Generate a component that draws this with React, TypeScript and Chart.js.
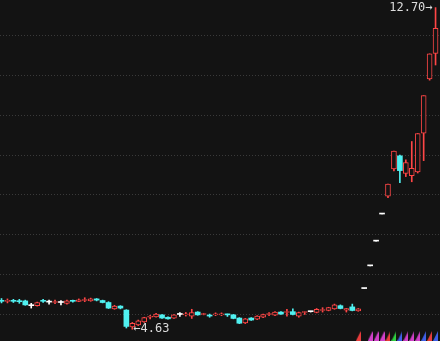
import React, { useEffect, useRef } from 'react';
import { Chart, registerables } from 'chart.js';
Chart.register(...registerables);

// Daily candles (price, yuan)
const opens = [
  5.35, 5.33, 5.35, 5.34, 5.34, 5.22, 5.22, 5.35, 5.31, 5.30,
  5.30, 5.28, 5.35, 5.33, 5.35, 5.34, 5.39, 5.35, 5.30, 5.14,
  5.21, 5.11, 4.69, 4.74, 4.81, 4.93, 4.94, 4.99, 4.93, 4.91,
  5.00, 4.99, 4.96, 5.06, 5.00, 4.98, 4.99, 4.99, 5.01, 4.99,
  4.91, 4.79, 4.91, 4.88, 4.93, 5.00, 4.98, 5.06, 5.05, 5.07,
  4.96, 5.05, 5.07, 5.05, 5.10, 5.10, 5.14, 5.22, 5.11, 5.19,
  5.09, 5.65, 6.22, 6.84, 7.52, 7.97, 8.65, 8.98, 8.54, 8.48,
  8.58, 9.55, 10.91, 11.55,
];
const highs = [
  5.40, 5.39, 5.38, 5.38, 5.36, 5.28, 5.31, 5.38, 5.36, 5.36,
  5.35, 5.36, 5.36, 5.39, 5.42, 5.41, 5.40, 5.36, 5.32, 5.23,
  5.22, 5.12, 4.80, 4.86, 4.93, 4.98, 5.03, 5.00, 4.94, 5.00,
  5.05, 5.05, 5.13, 5.07, 5.03, 5.01, 5.04, 5.04, 5.01, 5.00,
  4.92, 4.90, 4.92, 4.97, 5.01, 5.05, 5.07, 5.07, 5.13, 5.14,
  5.06, 5.07, 5.08, 5.15, 5.17, 5.18, 5.26, 5.24, 5.15, 5.26,
  5.15, 5.65, 6.22, 6.84, 7.52, 8.27, 9.10, 9.00, 8.88, 9.34,
  9.54, 10.49, 11.54, 12.70,
];
const lows = [
  5.29, 5.29, 5.30, 5.28, 5.23, 5.16, 5.21, 5.30, 5.26, 5.27,
  5.24, 5.26, 5.31, 5.32, 5.32, 5.33, 5.34, 5.29, 5.15, 5.13,
  5.14, 4.66, 4.63, 4.72, 4.80, 4.89, 4.93, 4.90, 4.88, 4.90,
  4.95, 4.96, 4.90, 4.98, 4.99, 4.93, 4.97, 4.97, 4.95, 4.89,
  4.77, 4.77, 4.85, 4.87, 4.92, 4.97, 4.97, 5.00, 4.96, 4.99,
  4.93, 5.00, 5.06, 5.04, 5.06, 5.09, 5.13, 5.14, 5.06, 5.09,
  5.08, 5.65, 6.22, 6.84, 7.52, 7.93, 8.60, 8.31, 8.46, 8.33,
  8.55, 8.86, 10.88, 11.26,
];
const closes = [
  5.33, 5.35, 5.33, 5.32, 5.24, 5.22, 5.30, 5.33, 5.31, 5.32,
  5.30, 5.34, 5.33, 5.37, 5.37, 5.39, 5.36, 5.30, 5.16, 5.21,
  5.16, 4.70, 4.78, 4.84, 4.92, 4.94, 5.01, 4.91, 4.89, 4.99,
  5.00, 5.01, 5.05, 4.99, 5.02, 4.96, 5.01, 5.01, 4.99, 4.90,
  4.78, 4.89, 4.86, 4.96, 5.00, 5.02, 5.06, 5.01, 5.07, 5.00,
  5.05, 5.07, 5.07, 5.13, 5.12, 5.17, 5.24, 5.15, 5.15, 5.10,
  5.14, 5.65, 6.22, 6.84, 7.52, 8.27, 9.10, 8.61, 8.81, 8.67,
  9.54, 10.49, 11.54, 12.18,
];

// Signal markers along the bottom (candle index + colour)
const signalIdx = [60, 62, 63, 64, 65, 66, 67, 68, 69, 70, 71, 72, 73];
const signalColors = [
  '#e83c3c', '#d040c8', '#d040c8', '#d040c8', '#e83c3c', '#30d040', '#4060e8',
  '#d040c8', '#d040c8', '#d040c8', '#4060e8', '#e83c3c', '#4060e8',
];
const signalLevel = 4.46;

const yMin = 4.334;
const yMax = 12.891;
const xMin = -0.2523;
const xMax = 73.748;

const BG = '#131313';
const UP = '#ff4646';
const DOWN = '#50f0f0';
const FLAT = '#ffffff';

export default function App() {
  const ref = useRef<HTMLCanvasElement>(null);

  useEffect(() => {
    document.body.style.margin = '0';
    document.body.style.background = BG;
    const canvas = ref.current;
    if (!canvas) return;

    const idx = opens.map((_, i) => i);
    const kind = idx.map((i) => (closes[i] > opens[i] ? 1 : closes[i] < opens[i] ? -1 : 0));
    const col = kind.map((k) => (k > 0 ? UP : k < 0 ? DOWN : FLAT));
    const bodies = idx.map((i) => ({ x: i, y: [Math.min(opens[i], closes[i]), Math.max(opens[i], closes[i])] }));
    const wicks = idx.map((i) => ({ x: i, y: [lows[i], highs[i]] }));

    const tri = signalColors.map((c) => {
      const cv = document.createElement('canvas');
      cv.width = 5;
      cv.height = 10;
      const g = cv.getContext('2d')!;
      g.fillStyle = c;
      g.beginPath();
      g.moveTo(0, 10);
      g.lineTo(5, 10);
      g.lineTo(5, 0);
      g.closePath();
      g.fill();
      return cv;
    });

    const hiIdx = highs.indexOf(Math.max(...highs));
    const loIdx = lows.indexOf(Math.min(...lows));

    const extremes = {
      id: 'extremes',
      afterDatasetsDraw(chart: any) {
        const { ctx } = chart;
        const x = chart.scales.x;
        const y = chart.scales.y;
        ctx.save();
        ctx.font = '12px "DejaVu Sans Mono"';
        ctx.fillStyle = '#dcdcdc';
        ctx.textBaseline = 'middle';
        ctx.textAlign = 'right';
        ctx.fillText(highs[hiIdx].toFixed(2) + '→', x.getPixelForValue(hiIdx) - 3, y.getPixelForValue(highs[hiIdx]));
        ctx.textAlign = 'left';
        ctx.fillText('←' + lows[loIdx].toFixed(2), x.getPixelForValue(loIdx) + 1, y.getPixelForValue(lows[loIdx]));
        ctx.restore();
      },
    };

    const chart = new Chart(canvas, {
      type: 'bar',
      data: {
        datasets: [
          {
            data: bodies as any,
            backgroundColor: kind.map((k, i) => (k > 0 ? BG : col[i])),
            borderColor: col,
            borderWidth: kind.map((k) => (k > 0 ? 1 : 0)),
            borderSkipped: false,
            barThickness: 5,
            minBarLength: 1,
            grouped: false,
            order: 0,
          } as any,
          {
            data: wicks as any,
            backgroundColor: col,
            borderWidth: 0,
            barThickness: 1,
            grouped: false,
            order: 1,
          } as any,
          {
            type: 'scatter',
            data: signalIdx.map((i) => ({ x: i, y: signalLevel })),
            pointStyle: tri as any,
            pointRadius: 5,
            clip: false,
            order: 2,
          } as any,
        ],
      },
      options: {
        responsive: false,
        animation: false,
        events: [],
        layout: { padding: 0, autoPadding: false },
        plugins: { legend: { display: false }, tooltip: { enabled: false } },
        scales: {
          x: { type: 'linear', min: xMin, max: xMax, display: false, offset: false },
          y: {
            type: 'linear',
            min: yMin,
            max: yMax,
            ticks: { display: false, stepSize: 1, includeBounds: false },
            grid: { color: '#3a3a3a', drawTicks: false, lineWidth: 1 },
            border: { display: false, dash: [1, 2] },
            afterFit: (s: any) => {
              s.width = 0;
            },
          },
        },
      },
      plugins: [extremes],
    });

    return () => chart.destroy();
  }, []);

  return (
    <div style={{ position: 'fixed', left: 0, top: 0, width: 440, height: 341, background: BG }}>
      <canvas ref={ref} width={440} height={341} style={{ display: 'block' }} />
    </div>
  );
}
